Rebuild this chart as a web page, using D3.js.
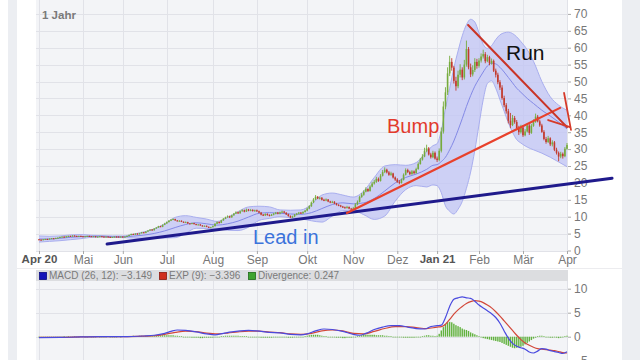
<!DOCTYPE html>
<html><head><meta charset="utf-8">
<script src="https://cdn.jsdelivr.net/npm/d3@7"></script>
<style>html,body{margin:0;padding:0;background:#fff;}svg{display:block;font-family:"Liberation Sans",Arial,Helvetica,sans-serif;}</style>
</head><body><svg id="c" width="640" height="360"></svg>
<script>
// ---- categories / ticks ----
const monthLabels = ["Apr 20","Mai","Jun","Jul","Aug","Sep","Okt","Nov","Dez","Jan 21","Feb","Mär","Apr"];
const monthIdx    = [0,21,40,61,83,104,128,150,171,190,210,231,252];
const boldLabels  = ["Apr 20","Jan 21"];
const priceTicks  = [0,5,10,15,20,25,30,35,40,45,50,55,60,65,70];
const macdTicks   = [10,5,0,-5];
const periodLabel = "1 Jahr";

// ---- daily candles (trading-day index 0..252) ----
const open = [3.3,3.2,3.1,3.3,3.4,3.3,3.5,3.6,3.5,3.7,3.8,4.0,4.1,3.9,4.2,4.3,4.2,4.4,4.3,4.2,4.3,
4.2,4.1,4.2,4.3,4.2,4.1,4.2,4.0,4.1,4.2,4.1,4.0,4.1,4.0,3.9,4.0,4.1,4.1,4.0,
4.1,4.0,4.1,4.3,4.6,4.9,4.7,5.0,4.8,5.1,5.4,5.2,5.6,5.9,6.2,6.0,6.5,6.8,7.2,7.0,7.6,
8.0,8.4,8.8,9.1,9.3,8.9,8.7,8.8,8.5,8.3,8.4,8.0,7.9,8.1,7.8,7.6,7.7,7.4,7.2,7.3,7.0,6.8,
6.9,7.2,7.9,8.4,8.2,8.9,9.4,9.8,10.1,9.8,10.4,10.9,11.3,11.0,11.6,11.9,11.5,12.1,11.8,12.0,11.7,
11.9,11.6,11.2,10.6,10.4,10.8,10.5,10.3,10.6,10.9,11.2,10.9,11.3,11.5,11.2,10.7,10.2,9.8,10.1,10.6,10.9,11.2,11.0,11.4,
11.8,12.4,13.1,14.2,15.1,15.9,15.4,15.6,15.0,14.8,15.1,14.5,14.2,14.4,13.9,13.5,13.3,13.0,12.8,12.6,12.9,12.4,
12.2,12.5,13.6,14.4,15.8,16.5,17.4,18.2,17.6,18.9,19.8,20.3,21.2,20.6,22.1,23.2,23.9,23.1,22.4,22.8,21.6,
21.0,20.3,20.0,20.9,22.4,23.8,23.2,22.6,23.4,22.9,24.1,25.6,26.9,27.8,29.5,30.2,28.4,27.6,28.9,
27.2,26.8,29.5,35.2,42.6,46.8,52.4,55.8,54.1,50.2,48.6,52.0,53.5,51.2,55.0,59.6,54.2,52.1,53.4,55.8,
54.6,56.2,57.4,58.1,56.0,57.2,55.4,56.1,53.2,52.0,49.8,48.2,45.1,43.0,41.2,38.4,37.1,39.2,38.0,36.2,35.0,
36.4,34.1,35.2,37.0,34.8,36.9,38.1,39.6,38.2,37.0,35.1,33.0,32.1,33.2,31.4,32.0,29.8,28.9,27.8,28.6,27.9,30.1];
const close = [3.2,3.1,3.3,3.4,3.3,3.5,3.6,3.5,3.7,3.8,4.0,4.1,3.9,4.2,4.3,4.2,4.4,4.3,4.2,4.3,4.2,
4.1,4.2,4.3,4.2,4.1,4.2,4.0,4.1,4.2,4.1,4.0,4.1,4.0,3.9,4.0,4.1,4.0,4.0,4.1,
4.0,4.1,4.3,4.6,4.9,4.7,5.0,4.8,5.1,5.4,5.2,5.6,5.9,6.2,6.0,6.5,6.8,7.2,7.0,7.6,8.0,
8.4,8.8,9.1,9.3,8.9,8.7,8.8,8.5,8.3,8.4,8.0,7.9,8.1,7.8,7.6,7.7,7.4,7.2,7.3,7.0,6.8,6.9,
7.2,7.9,8.4,8.2,8.9,9.4,9.8,10.1,9.8,10.4,10.9,11.3,11.0,11.6,11.9,11.5,12.1,11.8,12.0,11.7,11.9,
11.6,11.2,10.6,10.4,10.8,10.5,10.3,10.6,10.9,11.2,10.9,11.3,11.5,11.2,10.7,10.2,9.8,10.1,10.6,10.9,11.2,11.0,11.4,11.8,
12.4,13.1,14.2,15.1,15.9,15.4,15.6,15.0,14.8,15.1,14.5,14.2,14.4,13.9,13.5,13.3,13.0,12.8,12.6,12.9,12.4,12.2,
12.5,13.6,14.4,15.8,16.5,17.4,18.2,17.6,18.9,19.8,20.3,21.2,20.6,22.1,23.2,23.9,23.1,22.4,22.8,21.6,21.0,
20.3,20.0,20.9,22.4,23.8,23.2,22.6,23.4,22.9,24.1,25.6,26.9,27.8,29.5,30.2,28.4,27.6,28.9,27.2,
26.8,29.5,35.2,42.6,46.8,52.4,55.8,54.1,50.2,48.6,52.0,53.5,51.2,55.0,59.6,54.2,52.1,53.4,55.8,54.6,
56.2,57.4,58.1,56.0,57.2,55.4,56.1,53.2,52.0,49.8,48.2,45.1,43.0,41.2,38.4,37.1,39.2,38.0,36.2,35.0,36.4,
34.1,35.2,37.0,34.8,36.9,38.1,39.6,38.2,37.0,35.1,33.0,32.1,33.2,31.4,32.0,29.8,28.9,27.8,28.6,27.9,30.1,31.2];
const high = [3.4,3.3,3.4,3.5,3.5,3.6,3.7,3.7,3.8,3.9,4.1,4.2,4.2,4.3,4.4,4.4,4.5,4.5,4.4,4.4,4.4,
4.3,4.3,4.4,4.4,4.3,4.3,4.3,4.2,4.3,4.3,4.2,4.2,4.2,4.1,4.1,4.2,4.2,4.2,4.2,
4.2,4.2,4.4,4.7,5.0,5.0,5.1,5.1,5.2,5.5,5.5,5.7,6.0,6.3,6.3,6.6,6.9,7.3,7.3,7.7,8.2,
8.6,9.0,9.3,9.5,9.4,9.0,9.0,8.9,8.6,8.6,8.5,8.1,8.2,8.2,7.9,7.8,7.8,7.5,7.4,7.4,7.1,7.0,
7.4,8.1,8.6,8.6,9.1,9.6,10.0,10.4,10.3,10.6,11.1,11.6,11.5,11.8,12.2,12.1,12.4,12.3,12.3,12.2,12.1,
12.1,11.8,11.4,10.8,11.0,11.0,10.7,10.8,11.1,11.4,11.4,11.5,11.8,11.7,11.3,10.9,10.4,10.3,10.8,11.1,11.4,11.4,11.6,12.0,
12.7,13.4,14.5,15.5,16.4,16.1,15.9,15.8,15.3,15.4,15.2,14.7,14.7,14.6,14.1,13.7,13.5,13.2,13.0,13.2,13.0,12.6,
12.9,14.0,14.8,16.2,17.0,17.8,18.7,18.4,19.3,20.3,20.9,21.8,21.6,22.6,23.8,24.6,24.2,23.5,23.3,23.0,21.9,
21.4,20.8,21.3,22.8,24.3,24.2,23.6,23.8,23.7,24.5,26.1,27.4,28.5,30.4,31.3,30.6,28.9,29.5,29.3,
27.8,30.2,36.4,44.1,48.3,54.2,57.6,56.9,54.6,51.4,53.2,55.1,54.2,56.4,62.1,60.2,55.3,54.8,56.9,56.7,
56.9,58.3,59.4,58.7,57.9,57.6,56.8,56.5,53.8,52.6,50.4,48.9,45.8,43.6,41.9,40.7,40.1,39.8,38.6,36.9,37.2,
37.1,35.9,37.6,37.5,37.4,38.8,40.5,40.1,38.7,37.5,35.6,33.6,33.9,33.5,32.6,32.4,30.4,29.3,29.2,29.0,30.6,31.8];
const low = [3.1,3.0,3.1,3.2,3.2,3.3,3.4,3.4,3.5,3.6,3.7,3.9,3.8,3.8,4.1,4.1,4.1,4.2,4.1,4.1,4.1,
4.0,4.0,4.1,4.1,4.0,4.0,3.9,3.9,4.0,4.0,3.9,3.9,3.9,3.8,3.8,3.9,3.9,3.9,3.9,
3.9,3.9,4.0,4.2,4.5,4.6,4.6,4.7,4.7,5.0,5.1,5.1,5.5,5.8,5.9,5.9,6.4,6.7,6.9,6.9,7.5,
7.9,8.3,8.7,9.0,8.8,8.6,8.6,8.4,8.2,8.2,7.9,7.8,7.8,7.7,7.5,7.5,7.3,7.1,7.1,6.9,6.7,6.7,
6.8,7.1,7.8,8.0,8.1,8.8,9.3,9.7,9.6,9.7,10.3,10.8,10.8,10.9,11.5,11.3,11.4,11.6,11.6,11.5,11.5,
11.4,11.0,10.4,10.2,10.2,10.3,10.1,10.2,10.4,10.7,10.7,10.7,11.1,11.0,10.5,10.0,9.6,9.6,9.9,10.4,10.7,10.8,10.8,11.2,
11.6,12.2,12.9,14.0,14.9,15.2,15.1,14.8,14.6,14.6,14.3,14.0,14.0,13.7,13.3,13.1,12.8,12.6,12.4,12.4,12.2,12.0,
12.0,12.3,13.4,14.2,15.6,16.2,17.2,17.3,17.4,18.7,19.5,20.0,20.3,20.4,21.9,22.9,22.8,22.1,22.1,21.3,20.6,
20.0,19.6,19.8,20.7,22.2,22.9,22.3,22.4,22.6,22.7,23.9,25.4,26.6,27.6,29.1,28.1,27.2,27.3,26.9,
26.2,26.4,29.0,34.6,41.8,46.0,51.6,53.2,49.4,47.3,48.0,51.2,50.4,50.6,54.4,53.6,51.3,51.5,52.8,53.8,
54.1,55.6,56.8,55.4,55.7,54.8,55.0,52.8,51.2,49.2,47.5,44.6,42.4,40.5,37.6,36.2,36.8,37.5,35.6,34.2,34.6,
33.6,33.8,34.9,34.2,34.5,36.6,37.8,37.9,36.6,34.8,32.6,31.6,31.8,30.9,30.8,29.4,28.4,26.4,27.3,27.2,27.6,29.8];

// ---- Bollinger band (read at sparse trading-day indices) ----
const bandIdx   = [0,5,10,15,20,25,30,35,40,45,50,55,60,65,70,75,80,85,90,95,100,105,110,115,120,125,130,135,140,145,150,155,160,165,170,175,180,185,188,190,192,194,196,198,200,202,204,206,208,210,212,214,216,218,220,222,224,226,228,230,233,236,240,244,248,252];
const bandUpper = [4.3,4.2,4.3,4.6,4.7,4.5,4.4,4.3,4.3,4.8,5.5,6.4,7.9,9.8,10.3,9.8,9.3,8.6,9.8,11.5,12.9,13.1,12.9,12.0,11.9,12.0,13.6,16.4,17.0,16.4,15.8,17.6,21.6,25.0,25.4,25.2,26.0,29.2,31.0,31.6,35.5,42.0,48.0,54.0,59.0,63.5,66.8,68.4,67.6,64.4,61.0,59.8,60.6,62.4,63.8,64.4,64.6,64.2,63.2,61.8,59.4,56.0,50.0,45.5,43.0,41.5];
const bandMid   = [3.4,3.4,3.6,3.9,4.1,4.2,4.2,4.1,4.05,4.25,4.55,5.05,5.8,6.8,7.7,8.2,7.9,7.5,7.9,8.7,9.9,11.0,11.2,11.0,10.8,10.7,11.2,12.4,13.6,14.1,13.8,14.1,15.4,17.6,20.0,21.6,22.6,24.0,25.2,25.4,26.3,27.6,29.8,32.4,35.6,39.0,42.6,45.8,48.6,50.8,52.8,54.6,55.4,55.2,54.2,52.8,51.2,49.6,48.0,46.8,45.0,43.5,41.5,39.8,38.0,36.0];
const bandLower = [2.5,2.7,2.9,3.2,3.5,3.9,4.0,3.9,3.8,3.7,3.6,3.7,3.7,3.8,5.1,6.6,6.5,6.4,6.0,5.9,6.9,8.9,9.5,10.0,9.7,9.4,8.8,8.4,10.2,11.8,11.8,10.6,9.2,10.2,14.6,18.0,19.2,18.8,19.4,19.2,17.1,13.2,11.6,10.8,12.2,14.5,18.4,23.2,29.6,37.2,44.6,49.4,50.2,48.0,44.6,41.2,37.8,35.0,32.8,31.8,30.6,29.8,28.8,27.6,26.2,24.8];

// ---- MACD panel (read at sparse indices) ----
const macdIdx  = [0,10,20,30,40,50,55,60,63,66,70,75,80,84,88,92,96,100,104,110,115,120,125,128,132,136,140,145,150,153,156,160,164,168,172,176,180,184,187,190,192,194,196,198,200,202,204,206,208,210,212,214,216,218,220,222,224,226,228,230,232,234,236,238,240,242,244,246,248,250,252];
const macdLine = [-0.2,-0.15,-0.05,0.0,0.0,0.15,0.3,0.7,1.1,1.4,1.3,1.0,0.6,0.4,0.7,1.0,1.2,1.3,1.2,0.9,0.8,0.5,0.4,0.6,1.2,1.6,1.5,1.1,0.5,0.3,0.7,1.5,2.0,2.3,2.3,2.0,1.7,1.6,2.1,2.3,2.4,4.0,6.3,7.8,8.1,8.3,8.1,8.0,7.4,6.6,6.0,5.4,4.8,4.0,2.8,1.2,-0.3,-1.4,-2.0,-2.3,-2.6,-3.2,-3.4,-3.0,-2.5,-2.6,-2.9,-3.1,-3.3,-3.5,-3.15];
const expIdx   = [0,10,20,30,40,50,55,60,65,70,75,80,85,90,95,100,105,110,115,120,125,130,135,140,145,150,155,160,165,170,175,180,185,190,192,194,196,198,200,202,204,206,208,210,212,214,216,218,220,222,224,226,228,230,232,234,236,238,240,242,244,246,248,250,252];
const expLine  = [-0.15,-0.15,-0.05,0,0,0.1,0.2,0.5,0.9,1.15,1.05,0.75,0.6,0.75,1.0,1.15,1.15,0.95,0.85,0.6,0.5,0.7,1.2,1.4,1.2,0.7,0.6,1.1,1.7,2.1,2.1,1.9,1.7,2.0,2.1,2.6,3.6,4.7,5.6,6.3,6.9,7.3,7.5,7.4,7.1,6.6,6.0,5.2,4.3,3.3,2.3,1.3,0.3,-0.6,-1.3,-1.8,-2.2,-2.5,-2.6,-2.7,-2.8,-2.9,-3.1,-3.3,-3.4];
const divergence = [-0.1,-0.1,-0.1,-0.1,-0.1,-0.1,-0.1,0,-0.1,0,0,0,0.1,0,0.1,0,0,0.1,0,0,0.1,
0.1,0,0,0.1,0,0,0,0.1,0,0,0,0,0.1,0,0,0,0,0.1,0,
0.1,0.1,0.1,0.1,0.1,0.2,0.1,0.1,0.2,0.2,0.1,0.2,0.2,0.2,0.2,0.3,0.3,0.3,0.3,0.3,0.3,
0.3,0.3,0.3,0.3,0.2,0.2,0.1,0.1,0,0,-0.1,-0.1,-0.2,-0.2,-0.2,-0.2,-0.3,-0.3,-0.2,-0.2,-0.2,-0.2,
-0.2,-0.1,-0.1,0,0.1,0.1,0.2,0.2,0.2,0.2,0.2,0.2,0.2,0.1,0.1,0.1,0.1,0,0,0,0,
-0.1,-0.1,-0.2,-0.2,-0.2,-0.2,-0.2,-0.2,-0.1,-0.1,-0.1,-0.1,-0.1,-0.1,-0.1,-0.2,-0.2,-0.2,-0.1,-0.1,0,0,0,0.1,
0.2,0.3,0.4,0.4,0.4,0.4,0.3,0.2,0.1,0.1,0,0,-0.1,-0.1,-0.2,-0.2,-0.2,-0.3,-0.3,-0.2,-0.2,-0.2,
-0.1,0,0.1,0.2,0.3,0.4,0.4,0.4,0.4,0.4,0.4,0.3,0.3,0.3,0.3,0.2,0.2,0.1,0.1,0,0,
0,-0.1,-0.1,-0.2,-0.2,-0.2,-0.2,-0.2,-0.2,-0.1,-0.1,0,0.1,0.2,0.3,0.3,0.2,0.2,0.1,
0.2,0.6,1.3,2.0,2.6,3.0,3.1,3.0,2.7,2.4,2.2,2.0,1.7,1.5,1.4,1.2,0.9,0.7,0.5,0.3,
0.1,-0.1,-0.3,-0.4,-0.5,-0.6,-0.7,-0.8,-0.9,-1.0,-1.1,-1.3,-1.5,-1.7,-1.9,-2.1,-2.3,-2.4,-2.3,-2.2,-2.1,
-1.9,-1.6,-1.3,-1.0,-0.7,-0.4,-0.2,0.1,0.2,0.2,0.1,0,-0.1,-0.2,-0.2,-0.1,-0.2,-0.3,-0.2,-0.1,0.1,0.2];
const legendLabels = ["MACD (26, 12): \u22123.149","EXP (9): \u22123.396","Divergence: 0.247"];

// ---- hand-drawn annotations (in index / price units) ----
const annoNames  = ["lead","bump","run","short1","short2"];
const annoFrom   = [[32.5,1.9],[147.0,11.1],[204.8,66.7],[243.0,38.6],[250.6,46.6]];
const annoTo     = [[273.5,21.4],[248.7,42.2],[252.0,36.5],[253.5,36.5],[253.9,35.7]];
const annoTexts  = ["Lead in","Bump","Run"];
const annoTextAt = [[102.1,1.9],[166.1,34.8],[222.9,56.4]];

// ================= drawing =================
const svg = d3.select("#c");
const L = 36, R = 568, T = 0, B = 251;
const x = d3.scaleLinear().domain([0,252]).range([39,567]);
const y = d3.scaleLinear().domain([0,70]).range([250.5,13.9]);
const ym = d3.scaleLinear().domain([-5,10]).range([360.7,288.7]);

// page chrome
svg.append("rect").attr("x",0).attr("y",0).attr("width",640).attr("height",360).attr("fill","#fff");
svg.append("rect").attr("x",8).attr("y",0).attr("width",9).attr("height",360).attr("fill","#eceef2");
svg.append("rect").attr("x",622).attr("y",0).attr("width",18).attr("height",360).attr("fill","#eceef2");

// main plot background + grid
svg.append("rect").attr("x",L).attr("y",T).attr("width",R-L).attr("height",B-T).attr("fill","#f3f4f7");
const g = svg.append("g");
g.selectAll("line.hg").data(priceTicks).join("line")
  .attr("x1",L).attr("x2",R).attr("y1",d=>Math.round(y(d))+0.5).attr("y2",d=>Math.round(y(d))+0.5)
  .attr("stroke","#e1e2e8").attr("stroke-width",1);
g.selectAll("line.vg").data(monthIdx).join("line")
  .attr("x1",d=>Math.round(x(d))+0.5).attr("x2",d=>Math.round(x(d))+0.5).attr("y1",T).attr("y2",B)
  .attr("stroke","#e1e2e8").attr("stroke-width",1);

svg.append("text").attr("x",42).attr("y",19).attr("font-size",11.5).attr("font-weight","bold")
  .attr("fill","#7a7a7a").text(periodLabel);

// Bollinger band
const band = bandIdx.map((d,i)=>({i:d,u:bandUpper[i],m:bandMid[i],l:bandLower[i]}));
const cv = d3.curveMonotoneX;
svg.append("path").datum(band)
  .attr("d", d3.area().x(d=>x(d.i)).y0(d=>y(d.l)).y1(d=>y(d.u)).curve(cv))
  .attr("fill","#c3c7f4").attr("fill-opacity",0.8);
svg.append("path").datum(band).attr("d", d3.line().x(d=>x(d.i)).y(d=>y(d.u)).curve(cv))
  .attr("fill","none").attr("stroke","#a9aeef").attr("stroke-width",1);
svg.append("path").datum(band).attr("d", d3.line().x(d=>x(d.i)).y(d=>y(d.l)).curve(cv))
  .attr("fill","none").attr("stroke","#a9aeef").attr("stroke-width",1);
svg.append("path").datum(band).attr("d", d3.line().x(d=>x(d.i)).y(d=>y(d.m)).curve(cv))
  .attr("fill","none").attr("stroke","#8389e6").attr("stroke-width",1);

// candles
const candles = close.map((c,i)=>({i,o:open[i],c,h:high[i],l:low[i]}));
const up = "#76ab3d", dn = "#c23a2c";
const cg = svg.append("g");
cg.selectAll("line").data(candles).join("line")
  .attr("x1",d=>x(d.i)).attr("x2",d=>x(d.i)).attr("y1",d=>y(d.h)).attr("y2",d=>y(d.l))
  .attr("stroke",d=>d.c>=d.o?up:dn).attr("stroke-width",0.9);
cg.selectAll("rect").data(candles).join("rect")
  .attr("x",d=>x(d.i)-0.8).attr("width",1.6)
  .attr("y",d=>y(Math.max(d.o,d.c))).attr("height",d=>Math.max(1,Math.abs(y(d.o)-y(d.c))))
  .attr("fill",d=>d.c>=d.o?up:dn);

// axes
const yAx = svg.append("g").attr("transform",`translate(${R},0)`)
  .call(d3.axisRight(y).tickValues(priceTicks).tickSize(3).tickPadding(3));
const xAx = svg.append("g").attr("transform",`translate(0,${B})`)
  .call(d3.axisBottom(x).tickValues(monthIdx).tickFormat((d,i)=>monthLabels[i]).tickSize(3).tickPadding(1));
[yAx,xAx].forEach(a=>{
  a.select(".domain").remove();
  a.selectAll("line").attr("stroke","#a8a8a8");
  a.selectAll("text").attr("fill","#777").attr("font-size",12).attr("font-family","Liberation Sans, Arial, sans-serif");
});
xAx.selectAll("text").filter(function(){return boldLabels.includes(this.textContent);})
  .attr("font-weight","bold").attr("fill","#555").attr("font-size",11.5);

// MACD panel
const PT = 270, PH = 281, PB = 360;
svg.append("rect").attr("x",L).attr("y",PT).attr("width",R-L).attr("height",PB-PT).attr("fill","#f3f4f7");
svg.append("rect").attr("x",L).attr("y",PT).attr("width",R-L).attr("height",PH-PT).attr("fill","#dcdde0");
svg.append("line").attr("x1",17).attr("x2",622).attr("y1",268.5).attr("y2",268.5).attr("stroke","#ececef");
svg.selectAll("line.mh").data(macdTicks).join("line")
  .attr("x1",L).attr("x2",R).attr("y1",d=>Math.round(ym(d))+0.5).attr("y2",d=>Math.round(ym(d))+0.5)
  .attr("stroke","#e1e2e8");
svg.selectAll("line.mv").data(monthIdx).join("line")
  .attr("x1",d=>Math.round(x(d))+0.5).attr("x2",d=>Math.round(x(d))+0.5).attr("y1",PH).attr("y2",PB)
  .attr("stroke","#e1e2e8");

// divergence bars
svg.append("g").selectAll("rect").data(divergence).join("rect")
  .attr("x",(d,i)=>x(i)-0.7).attr("width",1.4)
  .attr("y",d=>Math.min(ym(d),ym(0))).attr("height",d=>Math.max(0.7,Math.abs(ym(d)-ym(0))))
  .attr("fill","#62b23f");
const mline = d3.line().x(d=>x(d[0])).y(d=>ym(d[1])).curve(d3.curveMonotoneX);
svg.append("path").datum(expIdx.map((d,i)=>[d,expLine[i]])).attr("d",mline)
  .attr("fill","none").attr("stroke","#d2483a").attr("stroke-width",1.2);
svg.append("path").datum(macdIdx.map((d,i)=>[d,macdLine[i]])).attr("d",mline)
  .attr("fill","none").attr("stroke","#4a4adf").attr("stroke-width",1.2);

const mAx = svg.append("g").attr("transform",`translate(${R},0)`)
  .call(d3.axisRight(ym).tickValues(macdTicks).tickSize(3).tickPadding(3));
mAx.select(".domain").remove();
mAx.selectAll("line").attr("stroke","#a8a8a8");
mAx.selectAll("text").attr("fill","#777").attr("font-size",12).attr("font-family","Liberation Sans, Arial, sans-serif");

// legend
const legColors = [["#1515b8","#0a0a80"],["#d0301f","#8a1a10"],["#3fa431","#1f6a18"]];
const legX = [39,159,248];
legendLabels.forEach((t,i)=>{
  svg.append("rect").attr("x",legX[i]+0.5).attr("y",272.5).attr("width",7).attr("height",7)
    .attr("fill",legColors[i][0]).attr("stroke",legColors[i][1]).attr("stroke-width",0.8);
  svg.append("text").attr("x",legX[i]+10).attr("y",279.3).attr("font-size",10).attr("fill","#7a7a7a").text(t);
});

// annotations
const annoStyle = {lead:["#1f1a8c",3],bump:["#e8412c",2.2],run:["#c93426",2],short1:["#d63a2a",1.8],short2:["#d63a2a",1.8]};
annoNames.forEach((n,i)=>{
  svg.append("line").attr("x1",x(annoFrom[i][0])).attr("y1",y(annoFrom[i][1]))
    .attr("x2",x(annoTo[i][0])).attr("y2",y(annoTo[i][1]))
    .attr("stroke",annoStyle[n][0]).attr("stroke-width",annoStyle[n][1]).attr("stroke-linecap","round");
});
const textStyle = [["#3b73db",20],["#e23a2c",20],["#111",21]];
annoTexts.forEach((t,i)=>{
  svg.append("text").attr("x",x(annoTextAt[i][0])).attr("y",y(annoTextAt[i][1]))
    .attr("font-size",textStyle[i][1]).attr("fill",textStyle[i][0]).text(t);
});
</script></body></html>
